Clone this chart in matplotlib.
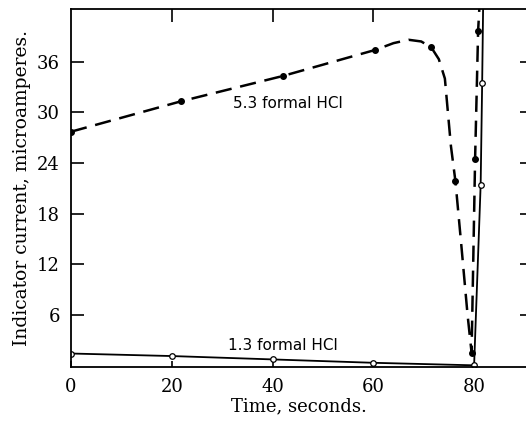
import matplotlib.pyplot as plt

# 5.3 formal HCl: measured points and traced curve
hi_x = [0, 21.8, 42, 60.4, 71.5, 76.3, 79.5, 80.2, 80.8]
hi_y = [27.7, 31.3, 34.3, 37.4, 37.7, 21.8, 1.5, 24.5, 39.7]
hi_curve_x = [0, 21.8, 42, 60.4, 64, 67, 69.5, 71.5, 73, 74.2, 74.8, 75.4, 76.3,
              77.5, 78.7, 79.5, 80.2, 80.8, 81.1]
hi_curve_y = [27.7, 31.3, 34.3, 37.4, 38.2, 38.6, 38.4, 37.7, 36.3, 34, 30,
              26, 21.8, 14, 6, 1.5, 24.5, 39.7, 43]

# 1.3 formal HCl
lo_x = [0, 20, 40, 60, 80, 81.3, 81.6]
lo_y = [1.4, 1.1, 0.7, 0.3, 0.0, 21.4, 33.5]
lo_curve_x = lo_x + [81.8]
lo_curve_y = lo_y + [43]

xticks = [0, 20, 40, 60, 80]
yticks = [6, 12, 18, 24, 30, 36]

fig = plt.figure(figsize=(5.26, 4.28), dpi=100)
ax = fig.add_axes([0.135, 0.1425, 0.865, 0.8355])

ax.plot(hi_curve_x, hi_curve_y, color='black', lw=1.8, ls=(0, (6.5, 3.5)))
ax.plot(hi_x, hi_y, 'o', color='black', ms=4)
ax.plot(lo_curve_x, lo_curve_y, color='black', lw=1.3)
ax.plot(lo_x, lo_y, 'o', mfc='white', mec='black', ms=4, mew=0.9)

ax.text(43, 31.1, '5.3 formal HCl', ha='center', va='center', fontsize=11)
ax.text(42, 2.4, '1.3 formal HCl', ha='center', va='center', fontsize=11)

ax.set_xlim(0, 90.3)
ax.set_ylim(-0.2, 42.2)
ax.set_xticks(xticks)
ax.set_yticks(yticks)
ax.spines['right'].set_visible(False)
for s in ['left', 'top', 'bottom']:
    ax.spines[s].set_linewidth(1.3)

ax.tick_params(axis='both', direction='in', labelsize=13, width=1.2,
               top=True, right=True, pad=8)
ax.tick_params(axis='y', length=9)
ax.tick_params(axis='x', length=6)
# shorter ticks on right and bottom, longer on top
for t in ax.yaxis.get_major_ticks():
    t.tick2line.set_markersize(4)
for t in ax.xaxis.get_major_ticks():
    t.tick1line.set_markersize(4)
    t.tick2line.set_markersize(9)
xt = ax.xaxis.get_major_ticks()
xt[0].tick2line.set_visible(False)
xt[-1].tick2line.set_visible(False)
xt[-1].tick1line.set_visible(False)
for lab in ax.get_xticklabels() + ax.get_yticklabels():
    lab.set_family('DejaVu Serif')

ax.set_xlabel('Time, seconds.', family='DejaVu Serif', fontsize=13, labelpad=1)
ax.set_ylabel('Indicator current, microamperes.', family='DejaVu Serif',
              fontsize=13.5, labelpad=4)

fig.savefig('out.png', dpi=100)
